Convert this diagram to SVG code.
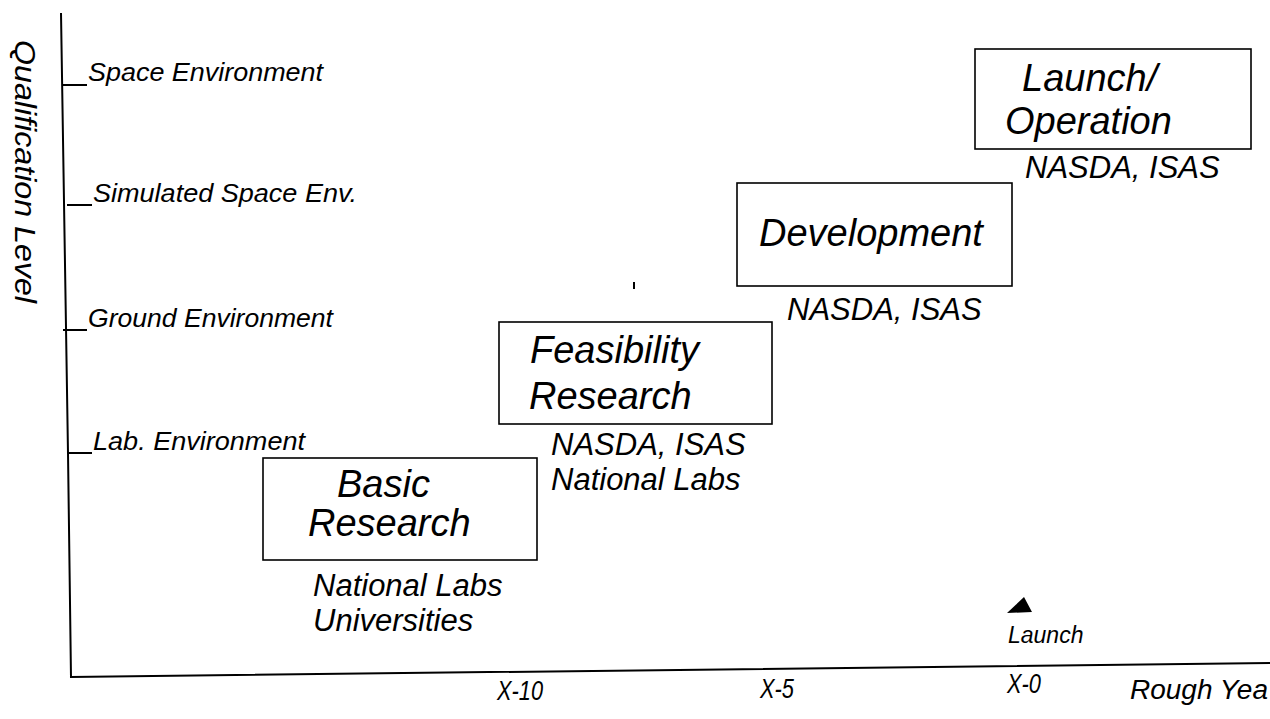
<svg xmlns="http://www.w3.org/2000/svg" width="1270" height="719" viewBox="0 0 1270 719">
<style>
text{font-family:"Liberation Sans",Arial,sans-serif;font-style:italic;fill:#000}
.lvl{font-size:26px}
.ttl{font-size:38px}
.org{font-size:31px}
.ax{font-size:27px}
.box{fill:none;stroke:#000;stroke-width:1.6}
.line{fill:none;stroke:#000;stroke-width:2}
</style>
<rect width="1270" height="719" fill="#fff"/>
<g id="axes">
<path class="line" d="M61 13 L68 453 L71 677 L1270 663"/>
<path class="line" d="M62 85 H87 M67 205 H92 M63 330 H87 M68 453 H92"/>
<text class="lvl" x="88" y="81" textLength="235" lengthAdjust="spacingAndGlyphs">Space Environment</text>
<text class="lvl" x="93" y="202" textLength="264" lengthAdjust="spacingAndGlyphs">Simulated Space Env.</text>
<text class="lvl" x="88" y="327" textLength="245" lengthAdjust="spacingAndGlyphs">Ground Environment</text>
<text class="lvl" x="93" y="450" textLength="212" lengthAdjust="spacingAndGlyphs">Lab. Environment</text>
<text transform="translate(15,40) rotate(90)" x="0" y="0" font-size="30" textLength="263" lengthAdjust="spacingAndGlyphs">Qualification Level</text>
<text class="ax" x="497" y="700" textLength="46" lengthAdjust="spacingAndGlyphs">X-10</text>
<text class="ax" x="760" y="698" textLength="34" lengthAdjust="spacingAndGlyphs">X-5</text>
<text class="ax" x="1007" y="693" textLength="34" lengthAdjust="spacingAndGlyphs">X-0</text>
<text class="ax" x="1130" y="699" textLength="138" lengthAdjust="spacingAndGlyphs">Rough Yea</text>
</g>
<g id="basic-research">
<rect class="box" x="263" y="458" width="274" height="102"/>
<text class="ttl" x="337" y="497">Basic</text>
<text class="ttl" x="308" y="536">Research</text>
<text class="org" x="313" y="596">National Labs</text>
<text class="org" x="313" y="631">Universities</text>
</g>
<g id="feasibility-research">
<rect class="box" x="499" y="322" width="273" height="102"/>
<text class="ttl" x="530" y="363">Feasibility</text>
<text class="ttl" x="529" y="409">Research</text>
<text class="org" x="551" y="455">NASDA, ISAS</text>
<text class="org" x="551" y="490">National Labs</text>
</g>
<g id="development">
<rect class="box" x="737" y="183" width="275" height="103"/>
<text class="ttl" x="759" y="246">Development</text>
<text class="org" x="787" y="320">NASDA, ISAS</text>
</g>
<g id="launch-operation">
<rect class="box" x="975" y="49" width="276" height="100"/>
<text class="ttl" x="1022" y="91">Launch/</text>
<text class="ttl" x="1005" y="134">Operation</text>
<text class="org" x="1025" y="178">NASDA, ISAS</text>
</g>
<g id="launch-marker">
<polygon points="1007,613 1032,612 1024,597" fill="#000"/>
<text x="1008" y="643" font-size="23">Launch</text>
</g>
<g id="connectors"></g>
<path d="M634 282 V289" stroke="#000" stroke-width="2"/>
</svg>
